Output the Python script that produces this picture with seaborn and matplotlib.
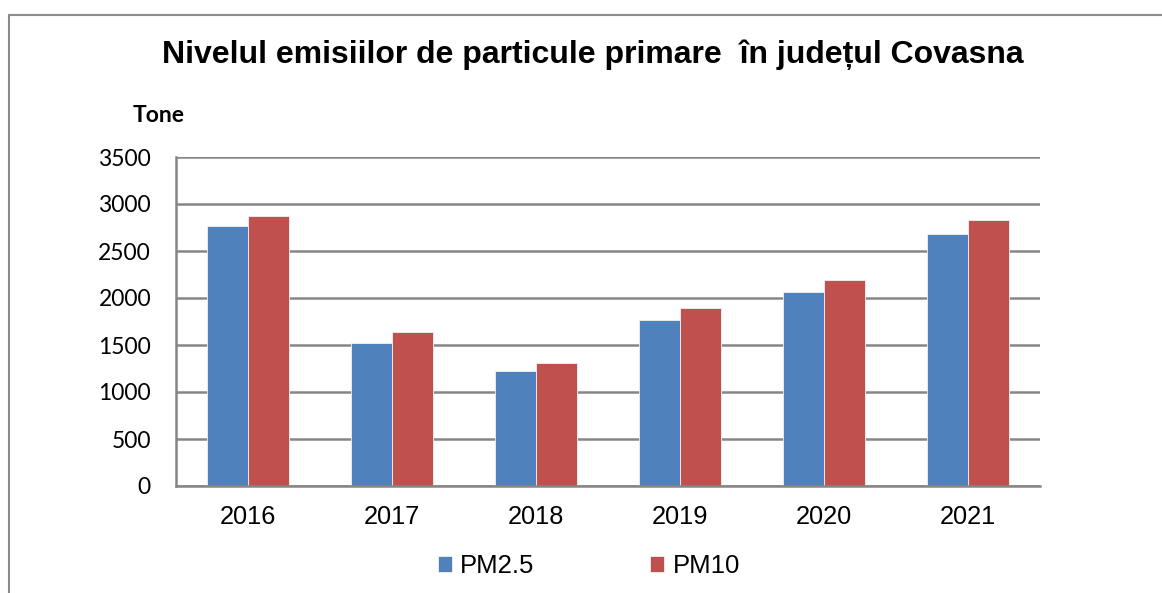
import matplotlib
matplotlib.use("Agg")
import matplotlib.pyplot as plt
import seaborn as sns
import pandas as pd
from matplotlib.patches import Rectangle

years = ["2016", "2017", "2018", "2019", "2020", "2021"]
pm25 = [2766, 1518, 1220, 1766, 2064, 2681]
pm10 = [2872, 1641, 1305, 1897, 2195, 2830]
series = ["PM2.5", "PM10"]
colors = ["#4F81BD", "#C0504D"]
yticks = [0, 500, 1000, 1500, 2000, 2500, 3000, 3500]

df = pd.DataFrame({
    "An": years * 2,
    "Valoare": pm25 + pm10,
    "Serie": [series[0]] * len(years) + [series[1]] * len(years),
})

sns.set_style("white")
plt.rcParams["font.family"] = ["Liberation Sans", "DejaVu Sans"]
plt.rcParams["text.color"] = "black"
plt.rcParams["xtick.color"] = "black"
plt.rcParams["ytick.color"] = "black"

fig = plt.figure(figsize=(11.62, 5.93), dpi=100)
ax = fig.add_axes([176 / 1162, 1 - 486 / 593, (1040 - 176) / 1162, (486 - 157) / 593])

sns.barplot(data=df, x="An", y="Valoare", hue="Serie", palette=colors,
            width=0.57, ax=ax, edgecolor="#F2F2F2", linewidth=0.6,
            saturation=1, legend=True)

ax.set_ylim(0, 3500)
ax.set_xlim(-0.5, len(years) - 0.5)
ax.set_yticks(yticks)
ax.set_yticklabels([str(v) for v in yticks], fontfamily="Lato", fontsize=16.5)
for lbl in ax.get_xticklabels():
    lbl.set_fontsize(18.3)
ax.set_xlabel("")
ax.set_ylabel("")
ax.yaxis.grid(True, color="#868686", linewidth=1.8)
ax.set_axisbelow(True)
for s in ["top", "right"]:
    ax.spines[s].set_visible(False)
for s in ["left", "bottom"]:
    ax.spines[s].set_color("#868686")
    ax.spines[s].set_linewidth(1.8)
ax.tick_params(axis="both", length=0)
ax.tick_params(axis="y", pad=18)
ax.tick_params(axis="x", pad=14)

handles, labels = ax.get_legend_handles_labels()
ax.legend_.remove()
fig.legend(handles, labels, loc="center", bbox_to_anchor=(589 / 1162, 1 - 566 / 593),
           ncol=2, frameon=False, fontsize=18.5, handlelength=0.55, handleheight=0.55,
           columnspacing=4.5, handletextpad=0.31)

fig.text(593 / 1162, 1 - 55 / 593, "Nivelul emisiilor de particule primare  în județul Covasna",
         ha="center", va="center", fontsize=23, fontweight="bold")
fig.text(159 / 1162, 1 - 116 / 593, "Tone", ha="center", va="center",
         fontsize=16.5, fontweight="bold", fontfamily="Lato")

border = Rectangle((9 / 1162, -0.05), 1.2, 1 - 15 / 593 + 0.05, transform=fig.transFigure,
                   fill=False, edgecolor="#8C8C8C", linewidth=1.5, clip_on=False)
fig.patches.append(border)

fig.savefig("out.png", dpi=100)
